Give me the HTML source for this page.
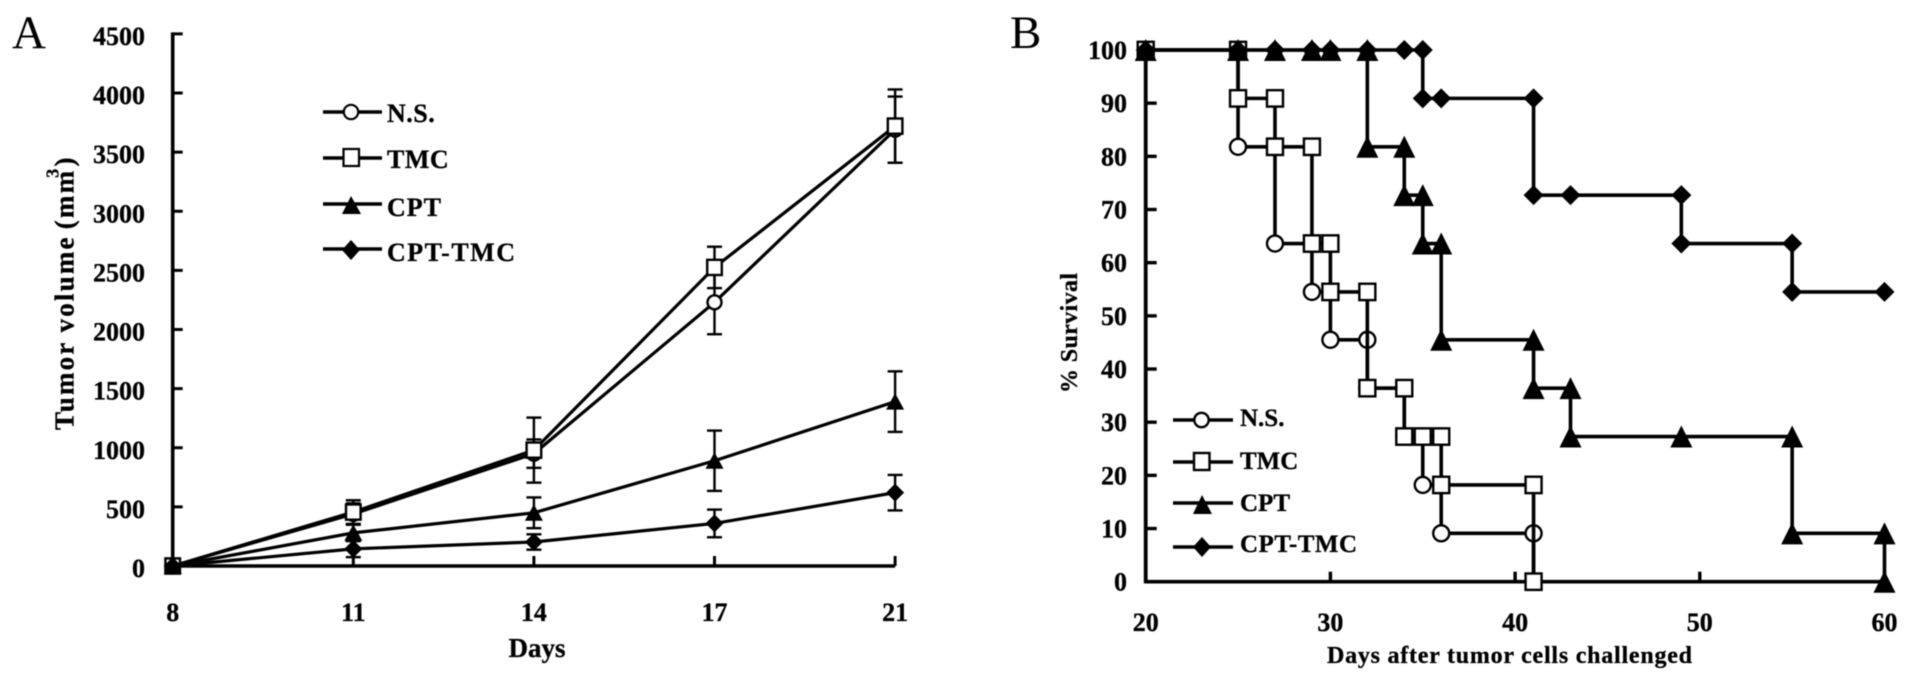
<!DOCTYPE html>
<html lang="en">
<head>
<meta charset="utf-8">
<title>Tumor volume and survival charts</title>
<style>
html,body{margin:0;padding:0;background:#fff;width:1913px;height:685px;overflow:hidden}
svg{display:block;filter:blur(.45px)}
text{font-family:"Liberation Serif",serif;fill:#000;font-weight:bold;stroke:#000;stroke-width:.3px}
</style>
</head>
<body>
<svg id="figure" xmlns="http://www.w3.org/2000/svg" width="1913" height="685" viewBox="0 0 1913 685">
  <rect width="1913" height="685" fill="#fff"/>
  <g id="panelA">
    <text x="12" y="48" font-size="47" style="font-weight:normal;stroke-width:0">A</text>
    <text transform="translate(73.5,430) rotate(-90)" font-size="27" letter-spacing="2.2">Tumor<tspan dx="8">volume</tspan><tspan dx="6">(mm</tspan><tspan dx="-9" dy="-15" font-size="18">3</tspan><tspan dy="15">)</tspan></text>
    <text x="537" y="657" font-size="27" text-anchor="middle">Days</text>
    <g>
      <g>
        <line x1="323" x2="382" y1="112" y2="112" stroke="#000" stroke-width="3.4"/>
        <circle cx="351" cy="112" r="7.2" fill="#fff" stroke="#000" stroke-width="2.2"/>
        <text x="387" y="122" font-size="26" letter-spacing=".5">N.S.</text>
      </g>
      <g>
        <line x1="323" x2="382" y1="158" y2="158" stroke="#000" stroke-width="3.4"/>
        <rect x="343.5" y="149" width="15.5" height="17" fill="#fff" stroke="#000" stroke-width="2.2"/>
        <text x="387" y="168" font-size="26" letter-spacing=".5">TMC</text>
      </g>
      <g>
        <line x1="323" x2="382" y1="204" y2="204" stroke="#000" stroke-width="3.4"/>
        <polygon points="351,196 361,214 342,214" fill="#000"/>
        <text x="387" y="216" font-size="26" letter-spacing="1">CPT</text>
      </g>
      <g>
        <line x1="323" x2="382" y1="249" y2="249" stroke="#000" stroke-width="3.4"/>
        <polygon points="351,240 360,250 351,260 342,250" fill="#000"/>
        <text x="387" y="261" font-size="26" textLength="128" lengthAdjust="spacing">CPT-TMC</text>
      </g>
    </g>
  </g>
  <g id="panelB">
    <text x="1010" y="48" font-size="47" style="font-weight:normal;stroke-width:0">B</text>
    <text transform="translate(1077,393) rotate(-90)" font-size="24" textLength="120" lengthAdjust="spacing">% Survival</text>
    <text x="1327" y="663" font-size="24" textLength="365" lengthAdjust="spacing">Days after tumor cells challenged</text>
    <g>
      <g>
        <line x1="1173" x2="1233" y1="420" y2="420" stroke="#000" stroke-width="3.4"/>
        <circle cx="1201.5" cy="420" r="7.2" fill="#fff" stroke="#000" stroke-width="2.4"/>
        <text x="1240" y="426" font-size="25">N.S.</text>
      </g>
      <g>
        <line x1="1173" x2="1233" y1="462" y2="462" stroke="#000" stroke-width="3.4"/>
        <rect x="1194" y="453" width="15.5" height="17" fill="#fff" stroke="#000" stroke-width="2.4"/>
        <text x="1240" y="469" font-size="25">TMC</text>
      </g>
      <g>
        <line x1="1173" x2="1233" y1="503" y2="503" stroke="#000" stroke-width="3.4"/>
        <polygon points="1202,495 1212,514 1193,514" fill="#000"/>
        <text x="1240" y="511" font-size="25">CPT</text>
      </g>
      <g>
        <line x1="1173" x2="1233" y1="547" y2="547" stroke="#000" stroke-width="3.4"/>
        <polygon points="1202,537 1211,547 1202,557 1193,547" fill="#000"/>
        <text x="1240" y="552" font-size="25" textLength="117" lengthAdjust="spacing">CPT-TMC</text>
      </g>
    </g>
  </g>
</svg>
<script>
/* Panel A data */
const volumeDays = ['8','11','14','17','21'];
const volumeTicks = [0,500,1000,1500,2000,2500,3000,3500,4000,4500];
const nsVolume = [0,440,950,2230,3690];
const nsError = [0,90,120,270,280];
const tmcVolume = [0,456,980,2525,3720];
const tmcError = [0,100,275,175,310];
const cptVolume = [0,280,450,890,1390];
const cptError = [0,70,130,255,256];
const cptTmcVolume = [0,145,203,360,620];
const cptTmcError = [0,70,65,117,150];

/* Panel B data */
const survivalXTicks = [20,30,40,50,60];
const survivalYTicks = [0,10,20,30,40,50,60,70,80,90,100];
const nsDays = [20,25,25,27,27,29,29,30,30,32,32,34,34,35,35,36,36,41,41];
const nsSurvival = [100,100,81.8,81.8,63.6,63.6,54.5,54.5,45.5,45.5,36.4,36.4,27.3,27.3,18.2,18.2,9.1,9.1,0];
const tmcDays = [20,25,25,27,27,29,29,30,30,32,32,34,34,35,36,36,41,41];
const tmcSurvival = [100,100,90.9,90.9,81.8,81.8,63.6,63.6,54.5,54.5,36.4,36.4,27.3,27.3,27.3,18.2,18.2,0];
const cptDays = [20,25,27,29,30,32,32,34,34,35,35,36,36,41,41,43,43,49,55,55,60,60];
const cptSurvival = [100,100,100,100,100,100,81.8,81.8,72.7,72.7,63.6,63.6,45.5,45.5,36.4,36.4,27.3,27.3,27.3,9.1,9.1,0];
const cptTmcDays = [20,25,27,29,30,32,34,35,35,36,41,41,43,49,49,55,55,60];
const cptTmcSurvival = [100,100,100,100,100,100,100,100,90.9,90.9,90.9,72.7,72.7,72.7,63.6,63.6,54.5,54.5];

const NS = 'http://www.w3.org/2000/svg';
const panelA = document.getElementById('panelA');
const panelB = document.getElementById('panelB');

function make(tag, attrs, parent) {
  const e = document.createElementNS(NS, tag);
  for (const k in attrs) e.setAttribute(k, attrs[k]);
  parent.appendChild(e);
  return e;
}
function drawLine(parent, x1, y1, x2, y2, w) {
  return make('line', {x1:x1, y1:y1, x2:x2, y2:y2, stroke:'#000', 'stroke-width':w}, parent);
}
function drawMarker(kind, parent, x, y, big) {
  let m;
  if (kind === 'circle') {
    const r = big ? 8 : 7;
    m = make('circle', {cx:x, cy:y, r:r, fill:'#fff', stroke:'#000', 'stroke-width':2.4}, parent);
  } else if (kind === 'square') {
    const hw = big ? 8 : 7.3, hh = big ? 8.2 : 7.6;
    m = make('rect', {x:x-hw, y:y-hh, width:hw*2, height:hh*2, fill:'#fff', stroke:'#000', 'stroke-width':2.4}, parent);
  } else if (kind === 'triangle') {
    const up = big ? 11 : 8.5, down = big ? 11 : 8, hw = big ? 11 : 9;
    m = make('polygon', {points:[x,y-up,x+hw,y+down,x-hw,y+down].join(' '), fill:'#000'}, parent);
  } else {
    const d = big ? 10 : 9;
    m = make('polygon', {points:[x,y-d,x+d,y,x,y+d,x-d,y].join(' '), fill:'#000'}, parent);
  }
  return m;
}

/* Panel A scales */
const ax = i => 172.7 + i * 180.6;
const ay = v => 566 - v * 0.11825;

const axesA = make('g', {}, panelA);


const yAxisA = drawLine(axesA, ax(0), ay(4500)-1.5, ax(0), ay(0)+1.5, 3.6);


const xAxisA = drawLine(axesA, ax(0), ay(0), ax(volumeDays.length-1), ay(0), 3.6);


volumeTicks.forEach(v => {
  const t = drawLine(axesA, ax(0), ay(v), ax(0)+10, ay(v), 3);
  
  
  const l = make('text', {x:145, y:ay(v)+11, 'font-size':26, 'text-anchor':'end'}, axesA);
  
  
  l.textContent = v;
});
volumeDays.forEach((d, i) => {
  const t = drawLine(axesA, ax(i), ay(0), ax(i), ay(0)-10, 3);
  
  
  const l = make('text', {x:ax(i), y:621, 'font-size':26, 'text-anchor':'middle'}, axesA);
  
  
  l.textContent = d;
});

function drawVolume(name, kind, values, errors) {
  const g = make('g', {}, panelA);
  
  
  values.forEach((v, i) => {
    if (i === 0) return;
    const e = errors[i];
    const b = make('g', {}, g);
    
    
    drawLine(b, ax(i), ay(v+e), ax(i), ay(v-e), 2.4);
    drawLine(b, ax(i)-7.5, ay(v+e), ax(i)+7.5, ay(v+e), 2.4);
    drawLine(b, ax(i)-7.5, ay(v-e), ax(i)+7.5, ay(v-e), 2.4);
  });
  const line = make('polyline', {points:values.map((v,i) => ax(i)+','+ay(v)).join(' '), fill:'none', stroke:'#000', 'stroke-width':3.2}, g);
  
  
  values.forEach((v, i) => {
    const m = drawMarker(kind, g, ax(i), ay(v), false);
    
    
  });
}
drawVolume('ns', 'circle', nsVolume, nsError);
drawVolume('tmc', 'square', tmcVolume, tmcError);
drawVolume('cpt', 'triangle', cptVolume, cptError);
drawVolume('cpt-tmc', 'diamond', cptTmcVolume, cptTmcError);

/* Panel B scales */
const bx = d => 1145.7 + (d - 20) * 18.47;
const by = v => 581.7 - v * 5.317;

const axesB = make('g', {}, panelB);


const yAxisB = drawLine(axesB, bx(20), by(100), bx(20), by(0)+1.7, 3.8);


const xAxisB = drawLine(axesB, bx(20), by(0), bx(60), by(0), 3.6);


survivalYTicks.forEach(v => {
  const t = drawLine(axesB, bx(20), by(v), bx(20)+11, by(v), 3.4);
  
  
  const l = make('text', {x:1127, y:by(v)+9, 'font-size':26, 'text-anchor':'end'}, axesB);
  
  
  l.textContent = v;
});
survivalXTicks.forEach(d => {
  const t = drawLine(axesB, bx(d), by(0), bx(d), by(0)-10, 3.4);
  
  
  const l = make('text', {x:bx(d), y:631, 'font-size':26, 'text-anchor':'middle'}, axesB);
  
  
  l.textContent = d;
});

function drawSurvival(name, kind, days, values) {
  const g = make('g', {}, panelB);
  
  
  const line = make('polyline', {points:days.map((d,i) => bx(d)+','+by(values[i])).join(' '), fill:'none', stroke:'#000', 'stroke-width':3.6}, g);
  
  
  days.forEach((d, i) => {
    const m = drawMarker(kind, g, bx(d), by(values[i]), true);
    
    
  });
}
drawSurvival('ns', 'circle', nsDays, nsSurvival);
drawSurvival('tmc', 'square', tmcDays, tmcSurvival);
drawSurvival('cpt', 'triangle', cptDays, cptSurvival);
drawSurvival('cpt-tmc', 'diamond', cptTmcDays, cptTmcSurvival);
</script>
</body>
</html>
